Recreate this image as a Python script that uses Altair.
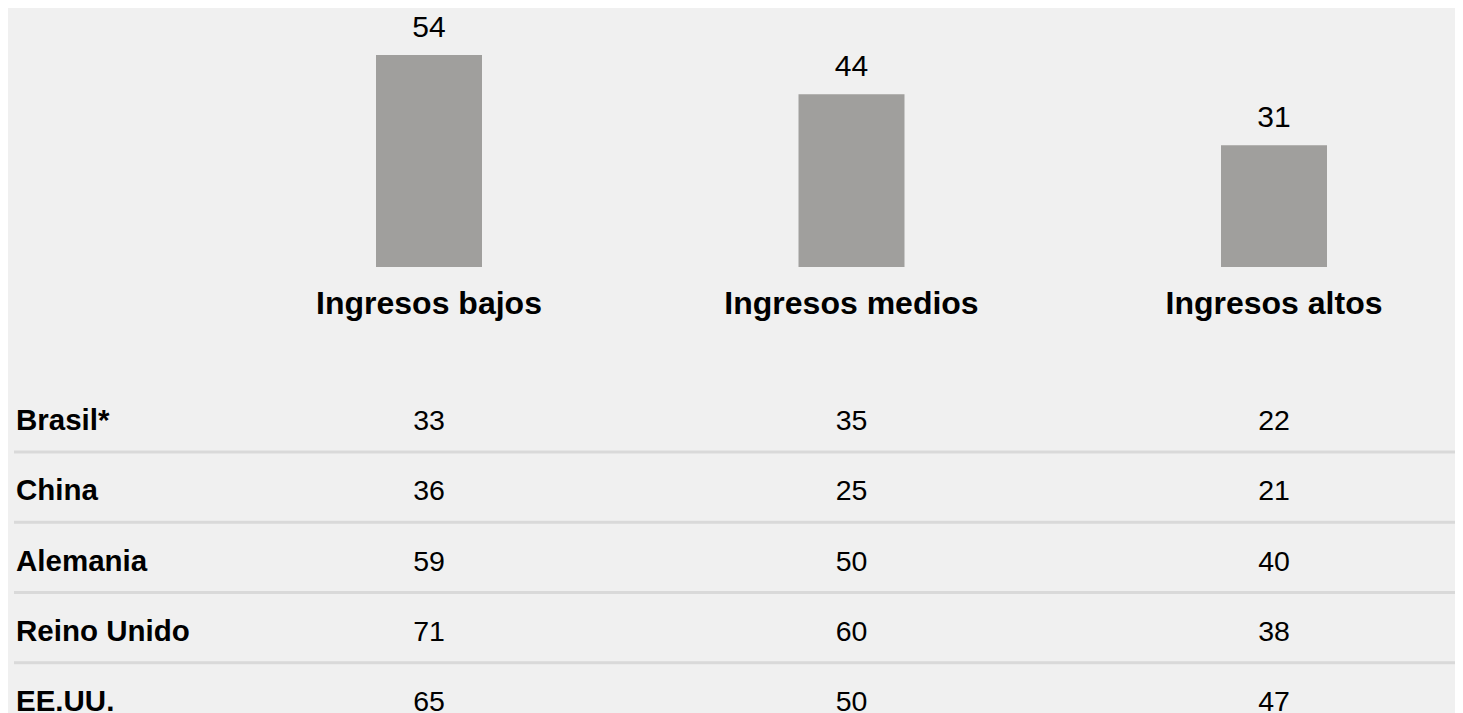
import altair as alt
import pandas as pd

# ---- data ----
categories = ["Ingresos bajos", "Ingresos medios", "Ingresos altos"]
overall = [54, 44, 31]
countries = ["Brasil*", "China", "Alemania", "Reino Unido", "EE.UU."]
brasil = [33, 35, 22]
china = [36, 25, 21]
alemania = [59, 50, 40]
reino_unido = [71, 60, 38]
eeuu = [65, 50, 47]

FONT = "Liberation Sans"
BG = "#f0f0f0"
BAR = "#a09f9d"

bars_df = pd.DataFrame({"category": categories, "value": overall})
rows = [brasil, china, alemania, reino_unido, eeuu]
table_df = pd.DataFrame(
    [
        {"country": c, "category": cat, "value": v}
        for c, vals in zip(countries, rows)
        for cat, v in zip(categories, vals)
    ]
)
countries_df = pd.DataFrame({"country": countries})
rules_df = pd.DataFrame({"country": countries[:-1]})

x_enc = alt.X(
    "category:N",
    scale=alt.Scale(type="point", domain=categories, range=[421, 1266], padding=0),
    axis=None,
)
y_bar = alt.Y(
    "value:Q",
    scale=alt.Scale(domain=[0, 54], range=[259, 47], nice=False, zero=True),
    axis=None,
)
row_scale = alt.Scale(type="point", domain=countries, range=[422, 703], padding=0)
rule_scale = alt.Scale(type="point", domain=countries, range=[444, 725], padding=0)

bars = alt.Chart(bars_df).mark_bar(color=BAR, size=106).encode(x=x_enc, y=y_bar)

bar_labels = alt.Chart(bars_df).mark_text(
    baseline="alphabetic", dy=-18, fontSize=30, font=FONT, color="#000000"
).encode(x=x_enc, y=y_bar, text=alt.Text("value:Q"))

cat_labels = alt.Chart(bars_df).mark_text(
    baseline="alphabetic", fontSize=32, fontWeight="bold", font=FONT, color="#000000"
).encode(x=x_enc, y=alt.value(306), text="category:N")

rules = alt.Chart(rules_df).mark_rule(color="#d9d9d9", strokeWidth=3).encode(
    y=alt.Y("country:N", scale=rule_scale, axis=None),
    x=alt.value(6),
    x2=alt.value(1447),
)

country_labels = alt.Chart(countries_df).mark_text(
    align="left", baseline="alphabetic", fontSize=29.5, fontWeight="bold", font=FONT,
    color="#000000",
).encode(
    x=alt.value(8),
    y=alt.Y("country:N", scale=row_scale, axis=None),
    text="country:N",
)

table_values = alt.Chart(table_df).mark_text(
    baseline="alphabetic", fontSize=28.5, font=FONT, color="#000000"
).encode(
    x=x_enc,
    y=alt.Y("country:N", scale=row_scale, axis=None),
    text=alt.Text("value:Q"),
)

chart = (
    alt.layer(bars, bar_labels, cat_labels, rules, country_labels, table_values)
    .resolve_scale(y="independent")
    .properties(
        width=1447,
        height=705,
        padding=0,
        autosize=alt.AutoSizeParams(type="none"),
        background=BG,
    )
    .configure_view(stroke=None)
)

chart.save("out.html", embed_options={"renderer": "svg", "actions": False})
